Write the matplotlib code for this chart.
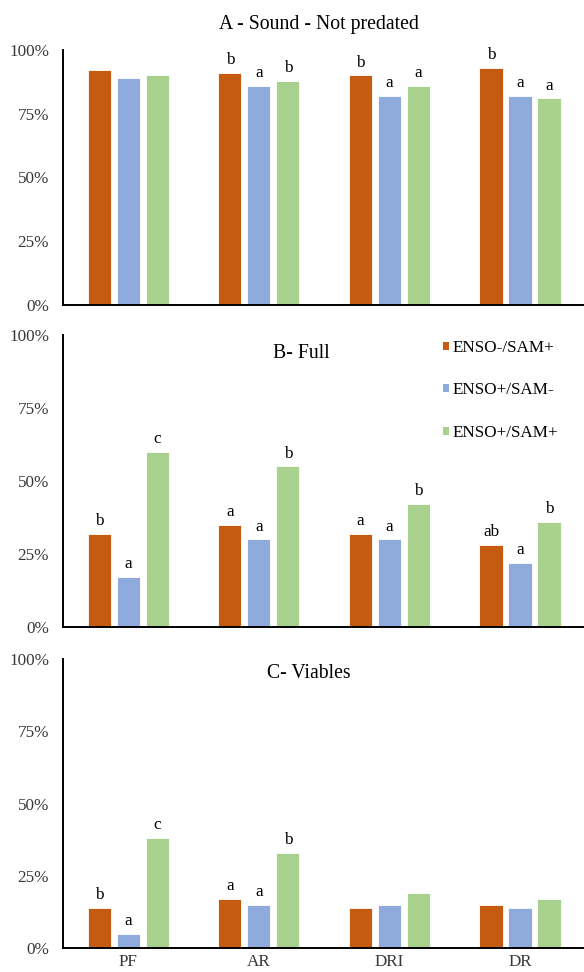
import matplotlib
matplotlib.use("Agg")
import matplotlib.pyplot as plt
import numpy as np
from matplotlib.patches import Patch
from matplotlib.ticker import PercentFormatter

plt.rcParams['font.family'] = ['Liberation Serif', 'DejaVu Serif']

categories = ["PF", "AR", "DRI", "DR"]
series_names = ["ENSO-/SAM+", "ENSO+/SAM-", "ENSO+/SAM+"]
colors = ["#C55A11", "#8FAADC", "#A9D18E"]

# Panel A - Sound - Not predated
a_enso_neg_sam_pos = [92, 91, 90, 93]
a_enso_pos_sam_neg = [89, 86, 82, 82]
a_enso_pos_sam_pos = [90, 88, 86, 81]
a_letters = [["", "", ""], ["b", "a", "b"], ["b", "a", "a"], ["b", "a", "a"]]

# Panel B - Full
b_enso_neg_sam_pos = [32, 35, 32, 28]
b_enso_pos_sam_neg = [17, 30, 30, 22]
b_enso_pos_sam_pos = [60, 55, 42, 36]
b_letters = [["b", "a", "c"], ["a", "a", "b"], ["a", "a", "b"], ["ab", "a", "b"]]

# Panel C - Viables
c_enso_neg_sam_pos = [14, 17, 14, 15]
c_enso_pos_sam_neg = [5, 15, 15, 14]
c_enso_pos_sam_pos = [38, 33, 19, 17]
c_letters = [["b", "a", "c"], ["a", "a", "b"], ["", "", ""], ["", "", ""]]

yticks = [0, 25, 50, 75, 100]

W, H = 584, 972
fig = plt.figure(figsize=(W / 100, H / 100), dpi=100)

def axes_rect(top_px, bottom_px, left_px=63, right_px=584):
    return [left_px / W, 1 - bottom_px / H, (right_px - left_px) / W, (bottom_px - top_px) / H]

panels = [
    (axes_rect(50, 305), [a_enso_neg_sam_pos, a_enso_pos_sam_neg, a_enso_pos_sam_pos], a_letters),
    (axes_rect(335, 627), [b_enso_neg_sam_pos, b_enso_pos_sam_neg, b_enso_pos_sam_pos], b_letters),
    (axes_rect(659, 948), [c_enso_neg_sam_pos, c_enso_pos_sam_neg, c_enso_pos_sam_pos], c_letters),
]

FS = 12.3
x = np.arange(len(categories))
offsets = [-0.222, 0.0, 0.222]
bw = 0.178
axes = []
for i, (rect, series, letters) in enumerate(panels):
    ax = fig.add_axes(rect)
    axes.append(ax)
    for s, (vals, col, off) in enumerate(zip(series, colors, offsets)):
        bars = ax.bar(x + off, vals, width=bw, color=col, edgecolor="white", linewidth=0.6)
        for j, b in enumerate(bars):
            lab = letters[j][s]
            if lab:
                ax.annotate(lab, (b.get_x() + b.get_width() / 2, b.get_height()),
                            xytext=(0, 3.5), textcoords="offset points",
                            ha="center", va="bottom", fontsize=FS, color="black")
    ax.set_ylim(0, 100)
    ax.set_xlim(-0.5, 3.49)
    ax.set_yticks(yticks)
    ax.yaxis.set_major_formatter(PercentFormatter(decimals=0))
    ax.tick_params(axis="y", length=0, pad=10, labelsize=FS, labelcolor="#383838")
    ax.tick_params(axis="x", length=0, pad=4, labelsize=FS, labelcolor="#383838")
    ax.set_xticks(x)
    if i == 2:
        ax.set_xticklabels(categories)
    else:
        ax.set_xticklabels([])
    for sp in ["top", "right"]:
        ax.spines[sp].set_visible(False)
    for sp in ["left", "bottom"]:
        ax.spines[sp].set_linewidth(1.4)
        ax.spines[sp].set_color("black")

fig.text(319 / W, 1 - 25 / H, "A - Sound - Not predated", ha="center", va="center", fontsize=14.2)
fig.text(301 / W, 1 - 353 / H, "B- Full", ha="center", va="center", fontsize=14.2)
fig.text(309 / W, 1 - 673 / H, "C- Viables", ha="center", va="center", fontsize=14.2)

handles = [Patch(facecolor=c, edgecolor="none") for c in colors]
axes[1].legend(handles, series_names, loc="upper left",
               bbox_to_anchor=(443 / W, 1 - 340 / H), bbox_transform=fig.transFigure,
               frameon=False, fontsize=FS, handlelength=0.35, handleheight=0.35,
               handletextpad=0.2, labelspacing=1.55, borderpad=0, borderaxespad=0)

fig.savefig("out.png", dpi=100)
